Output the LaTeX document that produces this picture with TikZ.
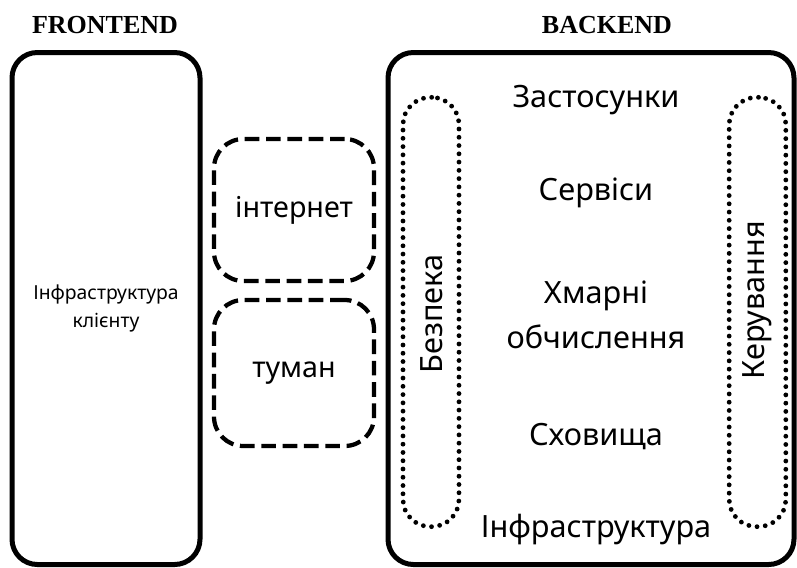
\documentclass[tikz,border=0pt]{standalone}
\usepackage{fontspec}
\setmainfont{Noto Sans}
\newfontfamily\headfont{Liberation Serif}
\usetikzlibrary{positioning}
\tikzset{
  layer/.style={draw,line width=3.75pt,rounded corners=19pt,align=center},
  link/.style={draw,line width=3.2pt,dash pattern=on 11pt off 5pt,rounded corners=22pt},
  side/.style={draw,line width=3.6pt,line cap=round,dash pattern=on 0pt off 6.2pt,rounded corners=20.5pt},
  head/.style={font=\headfont\bfseries\fontsize{19.5}{22}\selectfont},
  item/.style={font=\fontsize{23}{34}\selectfont,align=center},
}

\begin{document}
\begin{tikzpicture}[x=0.75pt,y=-0.75pt]
\useasboundingbox (0,0) rectangle (797,568);

% the two sides
\node[layer,minimum width=141pt,minimum height=384pt,font=\fontsize{14.5}{21}\selectfont]
  (front) at (106,308.5) {Інфраструктура\\клієнту};
\node[layer,minimum width=304.5pt,minimum height=384pt] (back) at (591,308.5) {};

\node[head] (fronthead) at (105,25) {FRONTEND};
\node[head] (backhead) at (607,25) {BACKEND};

% what lies between them
\node[link,minimum width=120pt,minimum height=106.5pt,font=\fontsize{21.5}{24}\selectfont]
  (net) at (294,210) {інтернет};
\node[link,minimum width=120pt,minimum height=109.5pt,font=\fontsize{21.5}{24}\selectfont]
  (fog) at (294,373) {туман};

% the two columns at the sides of the backend
\node[side,minimum width=42pt,minimum height=322pt] (sec) at (431,312) {};
\node[side,minimum width=42.5pt,minimum height=322pt] (mgmt) at (757.5,312) {};
\node[item,rotate=90] (seclabel) at (432,314) {Безпека};
\node[item,rotate=90] (mgmtlabel) at (757,300) {Керування};

% the layers of the backend
\node[item] (apps) at (596,100) {Застосунки};
\node[item] (serv) at (596,193) {Сервіси};
\node[item] (cloud) at (596,315) {Хмарні\\обчислення};
\node[item] (store) at (596,437) {Сховища};
\node[item] (infra) at (596,530) {Інфраструктура};

\end{tikzpicture}
\end{document}
